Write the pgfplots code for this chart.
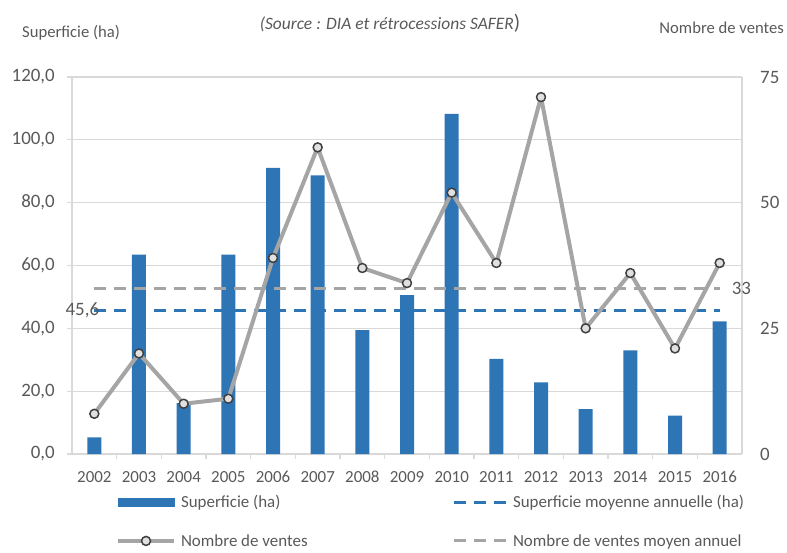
\documentclass[border=0pt]{standalone}
\usepackage{fontspec}
\setmainfont{Carlito}
\usepackage{pgfplots}
\usepackage{pgfplotstable}
\pgfplotsset{compat=1.18}
\definecolor{barblue}{HTML}{2E75B6}
\definecolor{linegray}{HTML}{A5A5A5}
\definecolor{gridc}{HTML}{D9D9D9}
\definecolor{txt}{HTML}{595959}
\definecolor{markfill}{HTML}{E0E0E0}
\definecolor{markdraw}{HTML}{404040}

\pgfplotstableread{
x bar cnt
0 5.3 8
1 63.5 20
2 16.2 10
3 63.5 11
4 91.1 39
5 88.7 61
6 39.4 37
7 50.6 34
8 108.3 52
9 30.3 38
10 22.8 71
11 14.3 25
12 33.0 36
13 12.2 21
14 42.2 38
}\data

\begin{document}
\begin{tikzpicture}
\useasboundingbox (-72bp,-99bp) rectangle (715bp,454bp);
\begin{axis}[
  at={(0,0)}, anchor=south west,
  scale only axis, width=670bp, height=377bp,
  clip=false,
  xmin=-0.5, xmax=14.5, ymin=0, ymax=120,
  axis x line*=bottom, axis y line*=left,
  axis line style={gridc, line width=1.2bp},
  tick align=outside,
  xtick={0,...,14},
  xticklabels={2002,2003,2004,2005,2006,2007,2008,2009,2010,2011,2012,2013,2014,2015,2016},
  minor xtick={0.5,1.5,...,13.5},
  major x tick style={draw=none},
  minor x tick style={gridc, line width=1.2bp},
  minor tick length=5bp,
  major tick length=5bp,
  ytick={0,20,...,120},
  major y tick style={gridc, line width=1.2bp},
  ymajorgrids,
  major grid style={gridc, line width=1.2bp},
  /pgf/number format/assume math mode=true,
  yticklabel style={font=\fontsize{19}{22}\selectfont, text=txt, inner sep=0pt,
    /pgf/number format/.cd, fixed, fixed zerofill, precision=1, use comma},
  yticklabel shift=12bp,
  xticklabel style={font=\fontsize{17}{20}\selectfont, text=txt, inner sep=0pt},
  xticklabel shift=12bp,
]
\addplot[ybar, bar width=14bp, fill=barblue, draw=none] table[x=x,y=bar]{\data};
\addplot[barblue, line width=3bp, dash pattern=on 12bp off 8bp] coordinates {(0,45.6) (14,45.6)};
\node[anchor=east, inner sep=0pt, font=\fontsize{19}{22}\selectfont, text=txt] at (axis cs:0,45.6) [xshift=5bp] {45,6};
\end{axis}
\begin{axis}[
  at={(0,0)}, anchor=south west,
  scale only axis, width=670bp, height=377bp,
  clip=false,
  xmin=-0.5, xmax=14.5, ymin=0, ymax=75,
  axis x line=none, axis y line*=right,
  axis line style={gridc, line width=1.2bp},
  ytick={0,25,50,75},
  major y tick style={draw=none},
  major tick length=0pt,
  /pgf/number format/assume math mode=true,
  yticklabel style={font=\fontsize{19}{22}\selectfont, text=txt, inner sep=0pt},
  yticklabel shift=18bp,
  legend columns=2,
  legend cell align=left,
  legend style={at={(0.0657,-0.179)}, anchor=west, draw=none, fill=none,
    inner sep=0pt, outer sep=0pt,
    font=\fontsize{17}{20}\selectfont, text=txt,
    nodes={inner xsep=5bp, inner ysep=0pt},
    row sep=25bp},
]
\addplot[linegray, line width=3bp, dash pattern=on 12bp off 8bp, forget plot] coordinates {(0,33) (14,33)};
\addplot[linegray, line width=4bp, line join=round, mark=*, mark size=4.5bp,
  mark options={fill=markfill, draw=markdraw, line width=1.5bp, solid}, forget plot]
  table[x=x,y=cnt]{\data};
\node[anchor=west, inner sep=0pt, font=\fontsize{19}{22}\selectfont, text=txt] at (axis cs:14,33) [xshift=12bp] {33};

\addlegendimage{legend image code/.code={\fill[barblue] (0bp,-4bp) rectangle (56bp,4bp);}}
\addlegendentry{\makebox[266bp][l]{Superficie (ha)}}
\addlegendimage{legend image code/.code={\draw[barblue, line width=3bp, dash pattern=on 12bp off 8bp] (0bp,0bp) -- (53bp,0bp);}}
\addlegendentry{Superficie moyenne annuelle (ha)}
\addlegendimage{legend image code/.code={\draw[linegray, line width=4bp] (0bp,0bp) -- (56bp,0bp);
  \draw[fill=markfill, draw=markdraw, line width=1.5bp] (28bp,0bp) circle (4.5bp);}}
\addlegendentry{\makebox[266bp][l]{Nombre de ventes}}
\addlegendimage{legend image code/.code={\draw[linegray, line width=3bp, dash pattern=on 12bp off 8bp] (0bp,0bp) -- (53bp,0bp);}}
\addlegendentry{Nombre de ventes moyen annuel}
\end{axis}
\node[text=txt, inner sep=0pt] at (318bp,431bp) {{\fontsize{17.5}{20}\selectfont\itshape (Source : DIA et rétrocessions SAFER}{\fontsize{21}{22}\selectfont)}};
\node[anchor=west, font=\fontsize{16.7}{20}\selectfont, text=txt, inner sep=0pt] at (-50bp,421bp) {Superficie (ha)};
\node[anchor=east, font=\fontsize{16.7}{20}\selectfont, text=txt, inner sep=0pt] at (712bp,426bp) {Nombre de ventes};
\end{tikzpicture}
\end{document}
